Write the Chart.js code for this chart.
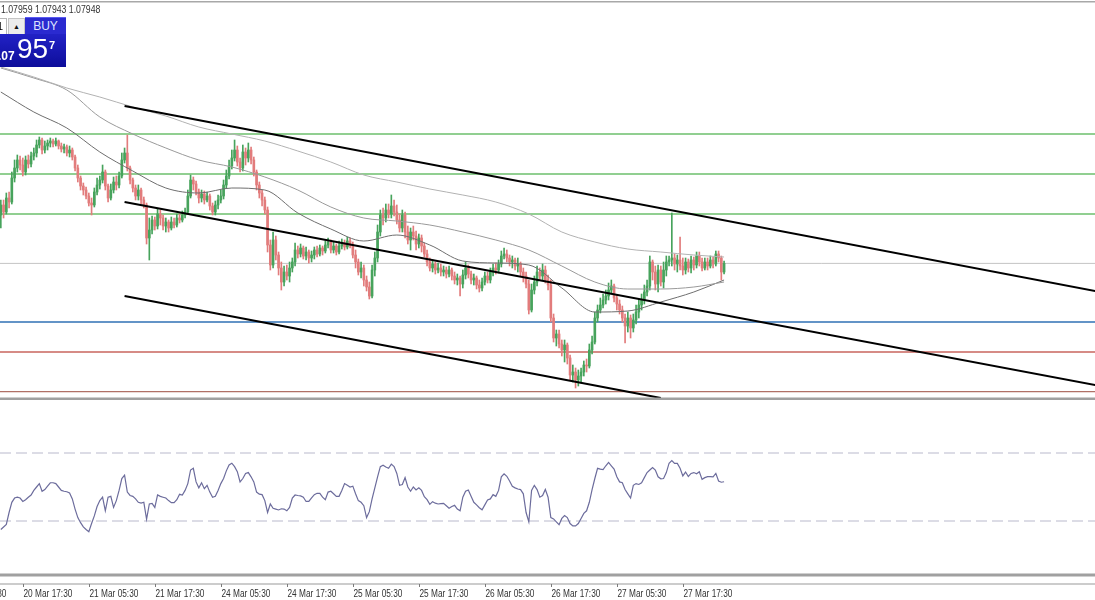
<!DOCTYPE html>
<html>
<head>
<meta charset="utf-8">
<script src="https://cdn.jsdelivr.net/npm/chart.js@4.4.1/dist/chart.umd.min.js"></script>
<style>
  body { margin: 0; background: #fff; width: 1095px; height: 600px; overflow: hidden; position: relative; }
  canvas { position: absolute; left: 0; }
  #price { top: 0; }
  #osc { top: 400px; }
  #quote { position: absolute; left: 1px; top: 3px; font: 10.5px "Liberation Sans", sans-serif; color: #333; white-space: nowrap; transform: scaleX(0.83); transform-origin: 0 0; }
  #trade { position: absolute; left: 0; top: 17px; width: 66px; height: 50px; font-family: "Liberation Sans", sans-serif; }
  #trade .lot { position: absolute; left: 0; top: 1px; width: 6px; height: 15px; background: #fff; border: 1px solid #b8b8b8; border-left: 0; font-size: 11px; line-height: 15px; color: #000; overflow: hidden; text-indent: -3px; }
  #trade .arrow { position: absolute; left: 8px; top: 1px; width: 15px; height: 15px; background: #ececec; border: 1px solid #c4c4c4; font-size: 7px; line-height: 15px; text-align: center; color: #111; }
  #trade .buy { position: absolute; left: 25px; top: 0; width: 41px; height: 17px; background: #2a2ad0; border-top: 1px solid #5a5af0; box-sizing: border-box; color: #dfe4ff; font-size: 12px; line-height: 16px; text-align: center; }
  #trade .px { position: absolute; left: 0; top: 17px; width: 66px; height: 33px; background: linear-gradient(#2222c6, #0d0d9a); color: #fff; overflow: hidden; }
  #trade .small { position: absolute; left: -2px; top: 15px; font-size: 12px; font-weight: bold; }
  #trade .big { position: absolute; left: 17px; top: -1px; font-size: 28px; }
  #trade .pip { position: absolute; left: 49px; top: 5px; font-size: 11px; font-weight: bold; }
</style>
</head>
<body>
<canvas id="price" width="1095" height="400"></canvas>
<canvas id="osc" width="1095" height="200"></canvas>
<div id="quote">1.07959 1.07943 1.07948</div>
<div id="trade">
  <div class="lot">1</div>
  <div class="arrow">&#9650;</div>
  <div class="buy">BUY</div>
  <div class="px"><span class="small">.07</span><span class="big">95</span><span class="pip">7</span></div>
</div>
<script>
// EURUSD M30, bars 20 Mar 13:30 .. 28 Mar 01:00 (bar index 0..263)
const opens = [
  1.08190,1.08240,1.08205,1.08275,1.08255,1.08375,1.08425,1.08465,1.08440,1.08405,1.08465,1.08445,
  1.08485,1.08500,1.08540,1.08565,1.08515,1.08535,1.08550,1.08560,1.08545,1.08560,1.08535,1.08520,
  1.08530,1.08500,1.08515,1.08480,1.08425,1.08375,1.08335,1.08315,1.08285,1.08250,1.08240,1.08305,
  1.08340,1.08365,1.08405,1.08335,1.08275,1.08315,1.08355,1.08340,1.08385,1.08465,1.08500,1.08425,
  1.08365,1.08325,1.08285,1.08315,1.08265,1.08240,1.08075,1.08115,1.08165,1.08135,1.08195,1.08175,
  1.08135,1.08155,1.08125,1.08155,1.08140,1.08175,1.08165,1.08190,1.08205,1.08285,1.08365,1.08345,
  1.08305,1.08275,1.08295,1.08265,1.08285,1.08235,1.08205,1.08240,1.08265,1.08285,1.08340,1.08385,
  1.08435,1.08475,1.08515,1.08455,1.08425,1.08505,1.08475,1.08515,1.08465,1.08405,1.08340,1.08300,
  1.08265,1.08215,1.08040,1.07940,1.08065,1.07990,1.07925,1.07855,1.07905,1.07885,1.07925,1.07955,
  1.08015,1.07995,1.08025,1.07985,1.08005,1.07975,1.07990,1.08015,1.07995,1.08025,1.08010,1.08040,
  1.08055,1.08015,1.08035,1.08005,1.08035,1.08050,1.08030,1.08060,1.08040,1.07990,1.07955,1.07905,
  1.07925,1.07865,1.07830,1.07785,1.07915,1.07975,1.08105,1.08190,1.08175,1.08215,1.08195,1.08235,
  1.08205,1.08165,1.08125,1.08190,1.08105,1.08065,1.08105,1.08085,1.08045,1.08075,1.08035,1.07995,
  1.07955,1.07925,1.07945,1.07915,1.07925,1.07905,1.07915,1.07895,1.07915,1.07885,1.07865,1.07875,
  1.07845,1.07890,1.07925,1.07895,1.07865,1.07875,1.07840,1.07825,1.07855,1.07885,1.07865,1.07905,
  1.07925,1.07915,1.07945,1.07985,1.07995,1.07975,1.07955,1.07965,1.07935,1.07945,1.07905,1.07885,
  1.07845,1.07715,1.07815,1.07855,1.07905,1.07885,1.07915,1.07865,1.07840,1.07675,1.07575,1.07595,
  1.07545,1.07515,1.07540,1.07475,1.07390,1.07405,1.07365,1.07385,1.07405,1.07440,1.07435,1.07515,
  1.07555,1.07675,1.07715,1.07740,1.07765,1.07785,1.07815,1.07835,1.07775,1.07745,1.07715,1.07675,
  1.07635,1.07675,1.07625,1.07665,1.07705,1.07740,1.07765,1.07805,1.07835,1.07955,1.07905,1.07845,
  1.07915,1.07855,1.07915,1.07955,1.07965,1.07975,1.07945,1.07965,1.07935,1.07915,1.07955,1.07925,
  1.07965,1.07940,1.07985,1.07955,1.07925,1.07955,1.07935,1.07965,1.07945,1.07995,1.07975,1.07905
];
const highs = [
  1.08265,1.08265,1.08300,1.08305,1.08405,1.08465,1.08490,1.08485,1.08475,1.08485,1.08490,1.08505,
  1.08525,1.08565,1.08580,1.08575,1.08560,1.08565,1.08575,1.08570,1.08575,1.08565,1.08550,1.08545,
  1.08540,1.08535,1.08525,1.08490,1.08440,1.08385,1.08350,1.08330,1.08300,1.08275,1.08325,1.08375,
  1.08385,1.08440,1.08415,1.08345,1.08345,1.08380,1.08385,1.08405,1.08500,1.08525,1.08590,1.08435,
  1.08375,1.08340,1.08340,1.08325,1.08280,1.08250,1.08175,1.08185,1.08180,1.08220,1.08215,1.08190,
  1.08175,1.08165,1.08180,1.08175,1.08195,1.08195,1.08210,1.08225,1.08315,1.08390,1.08380,1.08360,
  1.08320,1.08315,1.08310,1.08305,1.08295,1.08250,1.08260,1.08290,1.08315,1.08365,1.08415,1.08465,
  1.08515,1.08565,1.08535,1.08475,1.08540,1.08525,1.08550,1.08530,1.08480,1.08415,1.08355,1.08315,
  1.08280,1.08230,1.08065,1.08105,1.08085,1.08005,1.07955,1.07935,1.07940,1.07955,1.07975,1.08050,
  1.08035,1.08045,1.08035,1.08030,1.08015,1.08010,1.08030,1.08035,1.08040,1.08035,1.08060,1.08075,
  1.08065,1.08055,1.08045,1.08060,1.08070,1.08065,1.08080,1.08075,1.08055,1.08015,1.07970,1.07955,
  1.07940,1.07885,1.07855,1.07940,1.08005,1.08140,1.08215,1.08225,1.08245,1.08245,1.08290,1.08265,
  1.08240,1.08195,1.08215,1.08205,1.08135,1.08125,1.08135,1.08110,1.08095,1.08090,1.08050,1.08015,
  1.07975,1.07965,1.07955,1.07950,1.07945,1.07935,1.07930,1.07935,1.07925,1.07905,1.07895,1.07885,
  1.07915,1.07955,1.07940,1.07910,1.07895,1.07885,1.07865,1.07875,1.07905,1.07905,1.07925,1.07945,
  1.07950,1.07965,1.08010,1.08025,1.08015,1.07990,1.07985,1.07975,1.07975,1.07955,1.07925,1.07905,
  1.07865,1.07845,1.07885,1.07935,1.07925,1.07945,1.07935,1.07890,1.07865,1.07695,1.07615,1.07615,
  1.07565,1.07565,1.07550,1.07490,1.07440,1.07425,1.07415,1.07425,1.07460,1.07470,1.07545,1.07585,
  1.07705,1.07740,1.07775,1.07795,1.07815,1.07850,1.07865,1.07845,1.07790,1.07765,1.07735,1.07695,
  1.07705,1.07690,1.07695,1.07740,1.07770,1.07795,1.07840,1.07865,1.07985,1.07965,1.07935,1.07940,
  1.07935,1.07955,1.07985,1.07985,1.08200,1.07995,1.07990,1.08080,1.07975,1.07975,1.07970,1.07985,
  1.07980,1.08005,1.08005,1.07975,1.07975,1.07975,1.07985,1.07980,1.08010,1.08010,1.07985,1.07960
];
const lows = [
  1.08125,1.08175,1.08195,1.08225,1.08245,1.08355,1.08405,1.08415,1.08385,1.08390,1.08425,1.08430,
  1.08465,1.08480,1.08525,1.08495,1.08500,1.08515,1.08530,1.08530,1.08535,1.08520,1.08505,1.08500,
  1.08485,1.08480,1.08465,1.08410,1.08355,1.08315,1.08290,1.08270,1.08235,1.08190,1.08230,1.08290,
  1.08320,1.08350,1.08315,1.08255,1.08265,1.08300,1.08315,1.08325,1.08375,1.08450,1.08410,1.08345,
  1.08305,1.08265,1.08265,1.08245,1.08225,1.08045,1.07965,1.08095,1.08115,1.08120,1.08140,1.08115,
  1.08105,1.08105,1.08115,1.08125,1.08130,1.08150,1.08155,1.08175,1.08195,1.08275,1.08315,1.08290,
  1.08250,1.08255,1.08245,1.08255,1.08215,1.08190,1.08190,1.08220,1.08250,1.08270,1.08325,1.08370,
  1.08420,1.08460,1.08435,1.08405,1.08410,1.08440,1.08455,1.08445,1.08385,1.08315,1.08275,1.08235,
  1.08195,1.08005,1.07915,1.07925,1.07965,1.07890,1.07815,1.07835,1.07865,1.07855,1.07905,1.07935,
  1.07975,1.07980,1.07970,1.07965,1.07950,1.07955,1.07970,1.07980,1.07985,1.07990,1.08000,1.08025,
  1.08000,1.08000,1.07990,1.07995,1.08020,1.08015,1.08020,1.08025,1.07975,1.07925,1.07890,1.07875,
  1.07835,1.07810,1.07770,1.07775,1.07885,1.07955,1.08085,1.08140,1.08155,1.08175,1.08175,1.08185,
  1.08145,1.08105,1.08105,1.08075,1.08045,1.08015,1.08065,1.08015,1.08025,1.08005,1.07980,1.07935,
  1.07910,1.07905,1.07895,1.07900,1.07885,1.07885,1.07875,1.07880,1.07865,1.07845,1.07840,1.07785,
  1.07825,1.07870,1.07875,1.07845,1.07840,1.07820,1.07805,1.07810,1.07840,1.07850,1.07850,1.07885,
  1.07895,1.07900,1.07930,1.07970,1.07955,1.07935,1.07925,1.07915,1.07905,1.07885,1.07855,1.07825,
  1.07695,1.07705,1.07795,1.07835,1.07865,1.07865,1.07850,1.07815,1.07655,1.07555,1.07535,1.07525,
  1.07485,1.07455,1.07445,1.07365,1.07355,1.07325,1.07335,1.07350,1.07385,1.07405,1.07425,1.07495,
  1.07545,1.07655,1.07700,1.07725,1.07745,1.07765,1.07795,1.07755,1.07715,1.07695,1.07655,1.07550,
  1.07605,1.07575,1.07605,1.07645,1.07675,1.07715,1.07745,1.07785,1.07815,1.07865,1.07815,1.07805,
  1.07835,1.07825,1.07885,1.07935,1.07935,1.07915,1.07905,1.07915,1.07890,1.07895,1.07905,1.07900,
  1.07915,1.07925,1.07935,1.07910,1.07915,1.07915,1.07925,1.07925,1.07935,1.07955,1.07865,1.07895
];
const closes = [
  1.08240,1.08205,1.08275,1.08255,1.08375,1.08425,1.08465,1.08440,1.08405,1.08465,1.08445,1.08485,
  1.08500,1.08540,1.08565,1.08515,1.08535,1.08550,1.08560,1.08545,1.08560,1.08535,1.08520,1.08530,
  1.08500,1.08515,1.08480,1.08425,1.08375,1.08335,1.08315,1.08285,1.08250,1.08240,1.08305,1.08340,
  1.08365,1.08405,1.08335,1.08275,1.08315,1.08355,1.08340,1.08385,1.08465,1.08500,1.08425,1.08365,
  1.08325,1.08285,1.08315,1.08265,1.08240,1.08075,1.08115,1.08165,1.08135,1.08195,1.08175,1.08135,
  1.08155,1.08125,1.08155,1.08140,1.08175,1.08165,1.08190,1.08205,1.08285,1.08365,1.08345,1.08305,
  1.08275,1.08295,1.08265,1.08285,1.08235,1.08205,1.08240,1.08265,1.08285,1.08340,1.08385,1.08435,
  1.08475,1.08515,1.08455,1.08425,1.08505,1.08475,1.08515,1.08465,1.08405,1.08340,1.08300,1.08265,
  1.08215,1.08040,1.07940,1.08065,1.07990,1.07925,1.07855,1.07905,1.07885,1.07925,1.07955,1.08015,
  1.07995,1.08025,1.07985,1.08005,1.07975,1.07990,1.08015,1.07995,1.08025,1.08010,1.08040,1.08055,
  1.08015,1.08035,1.08005,1.08035,1.08050,1.08030,1.08060,1.08040,1.07990,1.07955,1.07905,1.07925,
  1.07865,1.07830,1.07785,1.07915,1.07975,1.08105,1.08190,1.08175,1.08215,1.08195,1.08235,1.08205,
  1.08165,1.08125,1.08190,1.08105,1.08065,1.08105,1.08085,1.08045,1.08075,1.08035,1.07995,1.07955,
  1.07925,1.07945,1.07915,1.07925,1.07905,1.07915,1.07895,1.07915,1.07885,1.07865,1.07875,1.07845,
  1.07890,1.07925,1.07895,1.07865,1.07875,1.07840,1.07825,1.07855,1.07885,1.07865,1.07905,1.07925,
  1.07915,1.07945,1.07985,1.07995,1.07975,1.07955,1.07965,1.07935,1.07945,1.07905,1.07885,1.07845,
  1.07715,1.07815,1.07855,1.07905,1.07885,1.07915,1.07865,1.07840,1.07675,1.07575,1.07595,1.07545,
  1.07515,1.07540,1.07475,1.07390,1.07405,1.07365,1.07385,1.07405,1.07440,1.07435,1.07515,1.07555,
  1.07675,1.07715,1.07740,1.07765,1.07785,1.07815,1.07835,1.07775,1.07745,1.07715,1.07675,1.07635,
  1.07675,1.07625,1.07665,1.07705,1.07740,1.07765,1.07805,1.07835,1.07955,1.07905,1.07845,1.07915,
  1.07855,1.07915,1.07955,1.07965,1.07975,1.07945,1.07965,1.07935,1.07915,1.07955,1.07925,1.07965,
  1.07940,1.07985,1.07955,1.07925,1.07955,1.07935,1.07965,1.07945,1.07995,1.07975,1.07905,1.07948
];

// RSI(14), one value per bar
const rsi = [
  25,26.5,28,35,41,43.5,44,43.5,41.5,42.5,44,45.3,
  48,50,52,47.5,48.5,50.5,52.5,52.5,52,50,48,47.5,
  47.2,46.5,43,37,32,29,26.5,25,23.7,28.5,33,38.5,
  42,44,36,44,44.5,38,42,48,55,57,47,45,
  44.5,43,41,40.5,41,31,40,40.4,38,45.3,44.5,44,
  43.5,42,40.8,40.8,42.5,45.7,45.3,48,52,60,61,53,
  49.5,52.5,49,51,47,43.9,44.5,48,52,55,59.5,63,
  64,62,59,53,55,58,58.5,56,53,47,45.8,45.5,
  42,35,40,37.5,37,36.5,37.2,37,36,38,43.5,45.3,
  45,44.8,44,41.5,41.5,43.6,45.5,46.3,46.3,44,42.5,47,
  47.5,46,44.5,44.5,48,52,51,50,50.5,46,42,41,
  39,32,35.5,43,49.5,56,62,62.8,61.8,61,63.5,62,
  58,51,51.5,55.5,50,47.5,50,48.3,49.5,48,44.3,42.6,
  39.8,41.4,40.5,40,40.2,40.4,39,37.5,38.5,39.2,37,36,
  44,47.5,48.2,44.5,41,39.5,37.8,36.6,39.5,42.4,43,45.5,
  44.5,48,56,57.8,56.3,53.5,50.4,49.5,48.8,48.5,46,35,
  29.5,48,51,48.5,44,45,48.6,44,32,31.2,29.5,27.8,
  31.5,33.2,32,28.5,27.1,27.1,28.5,31.5,34.5,36,41,48.5,
  55,61,60.5,60.2,62.5,64.5,62.5,60.5,56,53,52.5,48.5,
  46,43.5,51,52,51.5,52.5,55.5,58.5,60,61.5,60,56,
  54.8,55,58.5,64,65.5,63.9,63.9,61,56.5,58.8,56.2,58,
  58.5,57.8,59,54.5,55.5,56.1,56.1,56,58,53.5,52.8,53.1
];
const rsiLevels = [70, 30];

// moving averages, read at every 12th bar
const maBars = [0,12,24,36,48,60,72,84,96,108,120,132,144,156,168,180,192,204,216,228,240,252,263];
const maSlow = [1.08930,1.08880,1.08825,1.08780,1.08730,1.08685,1.08630,1.08595,1.08560,1.08510,1.08455,1.08390,1.08355,1.08320,1.08290,1.08255,1.08195,1.08105,1.08055,1.08020,1.08005,1.07990,1.07980];
const maMid = [1.08925,1.08875,1.08815,1.08680,1.08595,1.08525,1.08465,1.08430,1.08380,1.08315,1.08230,1.08175,1.08160,1.08140,1.08105,1.08065,1.08015,1.07935,1.07855,1.07820,1.07820,1.07830,1.07855];
const maFast = [1.08805,1.08705,1.08625,1.08505,1.08410,1.08325,1.08300,1.08325,1.08315,1.08200,1.08120,1.08060,1.08090,1.08040,1.07960,1.07950,1.07940,1.07825,1.07705,1.07710,1.07755,1.07805,1.07865];

// drawn channel lines: [bar, price] at both ends
const channelBars = [[45, 398], [45, 398], [45, 240]];
const channelPrices = [[1.08735, 1.07810], [1.08255, 1.07340], [1.07785, 1.07275]];

// horizontal levels (4th one is the bid line)
const levels = [1.08595, 1.08395, 1.08195, 1.07948, 1.07655, 1.07505, 1.07307];
const levelColors = ['#6cbf6c', '#6cbf6c', '#6cbf6c', '#c4c4c4', '#2f70b4', '#c8645e', '#b07066'];

const tickBars = [-16, 8, 32, 56, 80, 104, 128, 152, 176, 200, 224, 248];
const tickLabels = ['20 Mar 05:30', '20 Mar 17:30', '21 Mar 05:30', '21 Mar 17:30', '24 Mar 05:30', '24 Mar 17:30',
  '25 Mar 05:30', '25 Mar 17:30', '26 Mar 05:30', '26 Mar 17:30', '27 Mar 05:30', '27 Mar 17:30'];

const xMin = -0.3, xMax = -0.3 + 1095 / 2.75;
const bull = '#47a35c', bear = '#e27c7c';

function candleColor(ctx) {
  const i = ctx.dataIndex;
  return closes[i] >= opens[i] ? bull : bear;
}
function hLine(v, color, extra) {
  return Object.assign({ type: 'line', data: [{ x: xMin, y: v }, { x: xMax, y: v }], borderColor: color,
    borderWidth: 1, pointRadius: 0 }, extra || {});
}

var datasets = [];
levels.forEach(function (lv, k) {
  datasets.push(hLine(lv, levelColors[k], { borderWidth: k == 3 ? 1 : 1.4, order: 50 }));
});
datasets.push({
  type: 'bar', order: 40, grouped: false, barThickness: 1,
  data: closes.map((c, i) => ({ x: i, y: [lows[i], highs[i]] })),
  backgroundColor: candleColor
});
datasets.push({
  type: 'bar', order: 30, grouped: false, barThickness: 2, minBarLength: 1,
  data: closes.map((c, i) => ({ x: i, y: [opens[i], c] })),
  backgroundColor: candleColor
});
[[maSlow, '#b2b2b2'], [maMid, '#9a9a9a'], [maFast, '#6e6e6e']].forEach(function (m) {
  datasets.push({
    type: 'line', order: 20, data: maBars.map((b, k) => ({ x: b, y: m[0][k] })),
    borderColor: m[1], borderWidth: 1, pointRadius: 0, cubicInterpolationMode: 'monotone'
  });
});
channelBars.forEach(function (b, k) {
  datasets.push({
    type: 'line', order: 10, data: [{ x: b[0], y: channelPrices[k][0] }, { x: b[1], y: channelPrices[k][1] }],
    borderColor: '#000', borderWidth: 2, pointRadius: 0
  });
});

const frameTop = {
  id: 'frameTop',
  afterDraw(chart) {
    const g = chart.ctx;
    g.save();
    g.fillStyle = '#a8a8a8';
    g.fillRect(0, 1, chart.width, 1.5);
    g.fillStyle = '#a0a0a0';
    g.fillRect(0, 397.5, chart.width, 2.5);
    g.restore();
  }
};

new Chart(document.getElementById('price'), {
  type: 'bar',
  data: { datasets: datasets },
  options: {
    responsive: false, animation: false, events: [],
    layout: { padding: 0, autoPadding: false },
    plugins: { legend: { display: false }, tooltip: { enabled: false } },
    scales: {
      x: { type: 'linear', min: xMin, max: xMax, offset: false, display: false },
      y: { type: 'linear', min: 1.07265, max: 1.09265, display: false }
    }
  },
  plugins: [frameTop]
});

// separator + time axis under the oscillator, placed with the chart's x scale
const timeAxis = {
  id: 'timeAxis',
  afterDraw(chart) {
    const g = chart.ctx, xs = chart.scales.x, base = chart.chartArea.bottom;
    g.save();
    g.fillStyle = '#a0a0a0';
    g.fillRect(0, 173.5, chart.width, 3);
    g.fillStyle = '#9a9a9a';
    g.fillRect(0, base - 0.5, chart.width, 1);
    g.strokeStyle = '#7a7a7a';
    g.lineWidth = 1;
    g.font = '10px "Liberation Sans", sans-serif';
    g.fillStyle = '#333';
    g.textBaseline = 'top';
    tickBars.forEach(function (b, k) {
      const x = Math.round(xs.getPixelForValue(b)) + 0.5;
      g.beginPath();
      g.moveTo(x, base);
      g.lineTo(x, base + 3);
      g.stroke();
      g.save();
      g.translate(x, base + 5);
      g.scale(0.83, 1);
      g.fillText(tickLabels[k], 0, 0);
      g.restore();
    });
    g.restore();
  }
};

new Chart(document.getElementById('osc'), {
  type: 'line',
  data: {
    datasets: [
      { data: rsi.map((v, i) => ({ x: i, y: v })), borderColor: '#6c6c9c', borderWidth: 1.2, pointRadius: 0, order: 1 }
    ].concat(rsiLevels.map(lv => hLine(lv, '#b9b9cc', { borderDash: [11, 5], order: 2 })))
  },
  options: {
    responsive: false, animation: false, events: [],
    layout: { padding: { left: 0, right: 0, top: 0, bottom: 16 }, autoPadding: false },
    plugins: { legend: { display: false }, tooltip: { enabled: false } },
    scales: {
      x: { type: 'linear', min: xMin, max: xMax, offset: false, display: false },
      y: { type: 'linear', min: -7.06, max: 101.18, display: false }
    }
  },
  plugins: [timeAxis]
});
</script>
</body>
</html>
